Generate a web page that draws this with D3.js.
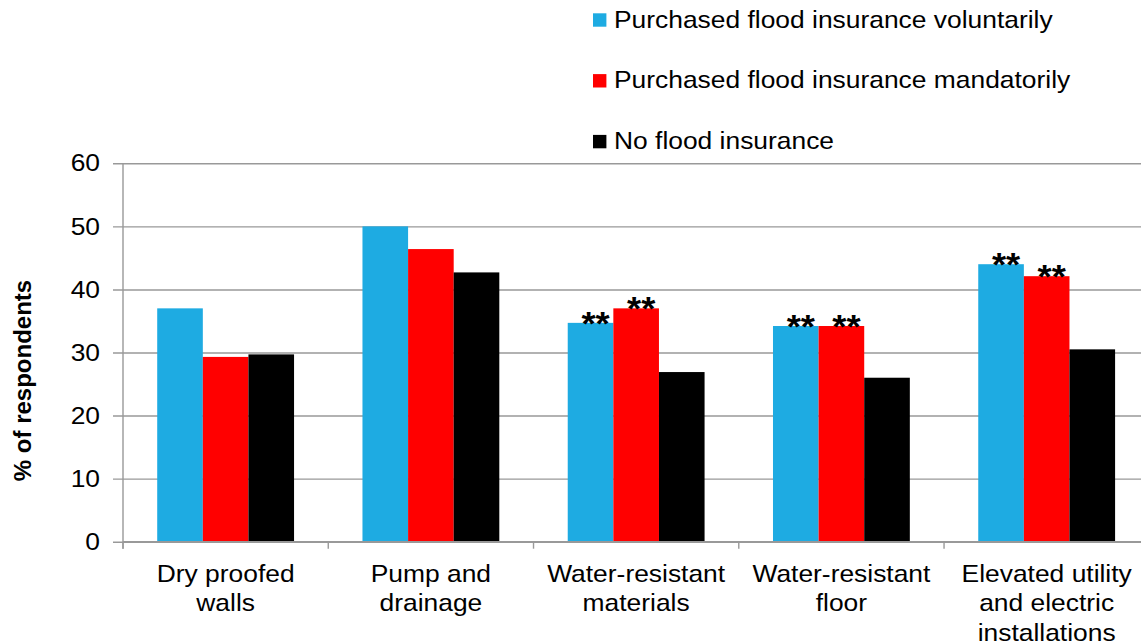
<!DOCTYPE html>
<html>
<head>
<meta charset="utf-8">
<script src="https://cdn.jsdelivr.net/npm/d3@7.9.0/dist/d3.min.js"></script>
<style>
  body { margin: 0; background: #fff; }
  svg { display: block; font-family: "Liberation Sans", Arial, sans-serif; }
</style>
</head>
<body>
<div id="chart"></div>
<script>
// data
const categories = ['Dry proofed walls', 'Pump and drainage', 'Water-resistant materials',
  'Water-resistant floor', 'Elevated utility and electric installations'];
const categoryLines = [
  ['Dry proofed', 'walls'],
  ['Pump and', 'drainage'],
  ['Water-resistant', 'materials'],
  ['Water-resistant', 'floor'],
  ['Elevated utility', 'and electric', 'installations'],
];
const seriesNames = ['Purchased flood insurance voluntarily',
  'Purchased flood insurance mandatorily', 'No flood insurance'];
const voluntary = [37.0, 50.0, 34.7, 34.2, 44.0];
const mandatory = [29.3, 46.4, 37.0, 34.2, 42.1];
const noInsurance = [29.7, 42.7, 26.9, 26.0, 30.5];
// which bars carry the "**" mark
const sigVoluntary = [false, false, true, true, true];
const sigMandatory = [false, false, true, true, true];
const yTicks = [0, 10, 20, 30, 40, 50, 60];

const colors = ['#1eabe2', '#ff0000', '#000000'];
const values = [voluntary, mandatory, noInsurance];
const sigs = [sigVoluntary, sigMandatory, null];

const width = 1141, height = 644;
const stretch = 1.1; // horizontal text is a bit wider than plain Arial

const svg = d3.select('#chart').append('svg')
  .attr('width', width).attr('height', height);

const x = d3.scaleBand()
  .domain(categories)
  .range([123, 1149.3])
  .paddingInner(1 / 3)
  .paddingOuter(1 / 6);

const xSeries = d3.scaleBand()
  .domain(seriesNames)
  .range([0, x.bandwidth()]);

const y = d3.scaleLinear().domain([0, 60]).range([541.7, 163.3]);

// gridlines + tick labels
const grid = svg.append('g')
  .attr('transform', 'translate(113,0)')
  .call(d3.axisLeft(y).tickValues(yTicks).tickSize(-(width - 113)).tickPadding(13));
grid.select('.domain').remove();
grid.selectAll('.tick line').attr('stroke', '#999').attr('stroke-width', 1.4);
grid.selectAll('.tick text')
  .attr('fill', '#000')
  .style('font-size', '24px')
  .attr('transform', `scale(${stretch},1)`)
  .attr('x', -13 / stretch);

// bars
const rows = categories.map((c, i) => seriesNames.map((s, j) => ({
  cat: c, series: s, value: values[j][i], color: colors[j], sig: sigs[j] ? sigs[j][i] : false
})));

const groups = svg.append('g').selectAll('g')
  .data(rows)
  .join('g')
  .attr('transform', (d, i) => `translate(${x(categories[i])},0)`);

groups.selectAll('rect')
  .data(d => d)
  .join('rect')
  .attr('x', d => xSeries(d.series))
  .attr('width', xSeries.bandwidth())
  .attr('y', d => y(d.value))
  .attr('height', d => y(0) - y(d.value))
  .attr('fill', d => d.color);

groups.selectAll('text.sig')
  .data(d => d.filter(e => e.sig))
  .join('text')
  .attr('class', 'sig')
  .attr('text-anchor', 'middle')
  .attr('transform', d => `translate(${xSeries(d.series) + xSeries.bandwidth() / 2 + 5},${y(d.value) + 12}) scale(${stretch},1)`)
  .style('font-size', '33px')
  .style('font-weight', 'bold')
  .text('**');

// y axis line
svg.append('line')
  .attr('x1', 123).attr('x2', 123)
  .attr('y1', y(60)).attr('y2', y(0) + 7)
  .attr('stroke', '#999').attr('stroke-width', 1.4);

// x axis line and boundary ticks
svg.append('line')
  .attr('x1', 123).attr('x2', width)
  .attr('y1', y(0)).attr('y2', y(0))
  .attr('stroke', '#999').attr('stroke-width', 1.6);

svg.append('g').selectAll('line')
  .data(d3.range(categories.length + 1))
  .join('line')
  .attr('x1', i => x.range()[0] + i * x.step())
  .attr('x2', i => x.range()[0] + i * x.step())
  .attr('y1', y(0)).attr('y2', y(0) + 7)
  .attr('stroke', '#999').attr('stroke-width', 1.4);

// category labels
const labels = svg.append('g').selectAll('text')
  .data(categories)
  .join('text')
  .attr('text-anchor', 'middle')
  .attr('transform', d => `translate(${x(d) + x.bandwidth() / 2},581.7) scale(${stretch},1)`)
  .style('font-size', '24px');

labels.selectAll('tspan')
  .data((d, i) => categoryLines[i])
  .join('tspan')
  .attr('x', 0)
  .attr('y', (d, i) => i * 29.5)
  .text(d => d);

// y axis title
svg.append('text')
  .attr('transform', `translate(31,${(y(0) + y(60)) / 2 + 28}) rotate(-90)`)
  .attr('text-anchor', 'middle')
  .style('font-size', '24px')
  .style('font-weight', 'bold')
  .text('% of respondents');

// legend
const legend = svg.append('g').selectAll('g')
  .data(seriesNames)
  .join('g')
  .attr('transform', (d, i) => `translate(593,${20 + i * 60.8})`);

legend.append('rect')
  .attr('x', 0).attr('y', -6.7)
  .attr('width', 13.4).attr('height', 13.4)
  .attr('fill', (d, i) => colors[i]);

legend.append('text')
  .attr('transform', `translate(21,7.5) scale(${stretch},1)`)
  .style('font-size', '24px')
  .text(d => d);
</script>
</body>
</html>
